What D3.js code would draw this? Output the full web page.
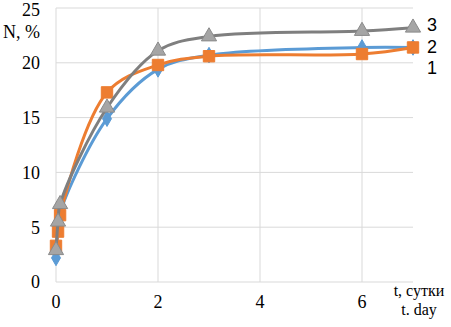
<!DOCTYPE html>
<html><head><meta charset="utf-8">
<script src="https://cdn.jsdelivr.net/npm/d3@7"></script>
<style>body{margin:0;background:#fff}svg{display:block}
.sf{font-family:"Liberation Serif","DejaVu Serif","Times New Roman",serif}
.ss{font-family:"Liberation Sans",Arial,sans-serif}</style>
</head><body>
<svg id="c" width="451" height="327"></svg>
<script>
const tDays = [0, 0.04, 0.08, 1, 2, 3, 6, 7];
const series1 = [2.2, 4.8, 6.3, 14.9, 19.4, 20.7, 21.4, 21.4];
const series2 = [3.3, 4.6, 6.1, 17.3, 19.8, 20.6, 20.8, 21.4];
const series3 = [2.9, 5.5, 7.1, 15.9, 21.1, 22.4, 22.9, 23.2];
const seriesNames = ["1", "2", "3"];
const xTicks = [0, 2, 4, 6];
const yTicks = [0, 5, 10, 15, 20, 25];

const svg = d3.select("#c");
const x = d3.scaleLinear().domain([0, 7]).range([56, 413]);
const y = d3.scaleLinear().domain([0, 25]).range([282, 8]);

// grid
svg.append("g").selectAll("line").data(yTicks).join("line")
  .attr("x1", x(0)).attr("x2", x(7)).attr("y1", d => y(d)).attr("y2", d => y(d))
  .attr("stroke", "#d9d9d9").attr("stroke-width", 1);
svg.append("g").selectAll("line").data(xTicks).join("line")
  .attr("x1", d => x(d)).attr("x2", d => x(d)).attr("y1", y(0)).attr("y2", y(25))
  .attr("stroke", "#d9d9d9").attr("stroke-width", 1);

// y labels
svg.append("g").selectAll("text").data(yTicks).join("text").attr("class", "sf")
  .attr("x", 40).attr("y", d => Math.max(y(d), 10)).attr("dy", "0.35em").attr("text-anchor", "end")
  .attr("font-size", 18).text(d => d);
svg.append("g").selectAll("text").data(xTicks).join("text").attr("class", "sf")
  .attr("x", d => x(d)).attr("y", 302).attr("dy", "0.35em").attr("text-anchor", "middle")
  .attr("font-size", 18).text(d => d);
svg.append("text").attr("class", "sf").attr("x", 3).attr("y", 32).attr("dy", "0.35em")
  .attr("font-size", 18).text("N, %");
svg.append("text").attr("class", "sf").attr("x", 419).attr("y", 290).attr("dy", "0.35em").attr("text-anchor", "middle")
  .attr("font-size", 16).text("t, сутки");
svg.append("text").attr("class", "sf").attr("x", 419).attr("y", 309).attr("dy", "0.35em").attr("text-anchor", "middle")
  .attr("font-size", 16).text("t. day");

const line = d3.line().x(d => x(d[0])).y(d => y(d[1])).curve(d3.curveCatmullRom.alpha(0.5));
const defs = [
  {vals: series1, color: "#5B9BD5", fill: "#5B9BD5", stroke: "#5B9BD5", sym: d3.symbolDiamond, size: 70},
  {vals: series2, color: "#ED7D31", fill: "#ED7D31", stroke: "#ED7D31", sym: d3.symbolSquare, size: 130},
  {vals: series3, color: "#7F7F7F", fill: "#A5A5A5", stroke: "#8a8a8a", sym: d3.symbolTriangle, size: 100}
];
defs.forEach(s => {
  const pts = tDays.map((t, i) => [t, s.vals[i]]);
  svg.append("path").attr("d", line(pts)).attr("fill", "none")
    .attr("stroke", s.color).attr("stroke-width", 3);
  svg.append("g").selectAll("path").data(pts).join("path")
    .attr("transform", d => `translate(${x(d[0])},${y(d[1])})`)
    .attr("d", d3.symbol().type(s.sym).size(s.size))
    .attr("fill", s.fill).attr("stroke", s.stroke).attr("stroke-width", 1);
});

// series labels
const labY = [68, 47, 25];
svg.append("g").selectAll("text").data(seriesNames).join("text").attr("class", "ss")
  .attr("x", 427).attr("y", (d, i) => labY[i]).attr("dy", "0.35em")
  .attr("font-size", 18).text(d => d);
</script>
</body></html>
